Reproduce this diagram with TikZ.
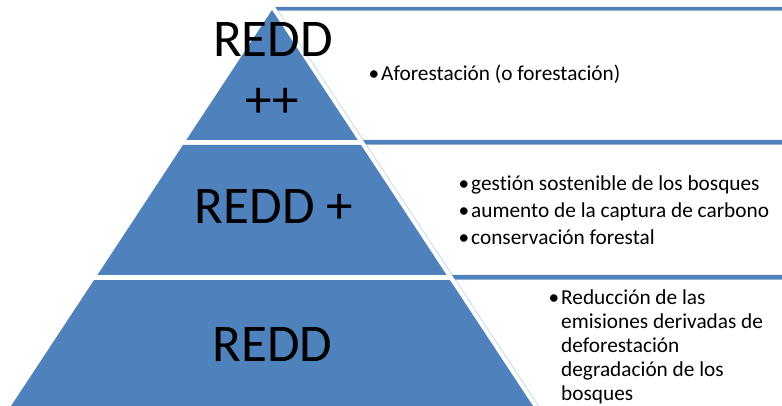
\documentclass[tikz,border=0pt]{standalone}
\usepackage{fontspec}
\setmainfont{Carlito}[Ligatures={NoCommon}]
\definecolor{pblue}{HTML}{4F81BD}
\definecolor{barshade}{HTML}{95B3D7}
\definecolor{edgeblue}{HTML}{C6D9F1}
\begin{document}
\begin{tikzpicture}[x=1pt,y=-1pt,
  tier/.style={fill=pblue,draw=none},
  bar/.style={fill=pblue,draw=none},
  barline/.style={draw=barshade,line width=1pt},
  edge/.style={draw=edgeblue,line width=0.8pt},
  big/.style={font=\fontsize{53}{61}\selectfont,inner sep=0pt,anchor=base},
  item/.style={font=\fontsize{21.3}{23}\selectfont,inner sep=0pt,anchor=base west},
  dot/.style={font=\fontsize{21.3}{23}\selectfont,inner sep=0pt,anchor=base west}]
\useasboundingbox (0,0) rectangle (782,406);
\fill[white] (0,0) rectangle (782,406);
% pyramid tiers
\fill[tier] (272,10) -- (357.7,140) -- (186.3,140) -- cycle;
\fill[tier] (183,145) -- (361,145) -- (446.6,275) -- (97.4,275) -- cycle;
\fill[tier] (94.1,280) -- (449.9,280) -- (533,406) -- (11,406) -- cycle;
% boxes: slanted edge and top bars
\draw[edge] (275.5,7) -- (538.5,406);
\fill[bar] (275.5,7) -- (782,7) -- (782,10.5) -- (277.8,10.5) -- cycle;
\draw[barline] (277.8,11) -- (782,11);
\fill[bar] (363.2,140) -- (782,140) -- (782,144) -- (365.8,144) -- cycle;
\draw[barline] (366.2,144.5) -- (782,144.5);
\fill[bar] (452.1,275) -- (782,275) -- (782,279) -- (454.7,279) -- cycle;
\draw[barline] (455.1,279.5) -- (782,279.5);
% tier labels
\node[big] (t1a) at (273,57) {REDD};
\node[big] (t1b) at (272.5,118) {++};
\node[big] (t2) at (274,224) {REDD +};
\node[big] (t3) at (272.5,361) {REDD};
% tier 1 text
\node[dot] (b1) at (368.5,81) {•};
\node[item] (l1) at (381,81) {Aforestación (o forestación)};
% tier 2 text
\node[dot] (b21) at (458.5,191) {•};
\node[item] (l21) at (471,191) {gestión sostenible de los bosques};
\node[dot] (b22) at (458.5,217.5) {•};
\node[item] (l22) at (471,217.5) {aumento de la captura de carbono};
\node[dot] (b23) at (458.5,244) {•};
\node[item] (l23) at (471,244) {conservación forestal};
% tier 3 text
\node[dot] (b31) at (548.5,304) {•};
\node[item] (l31) at (561,304) {Reducción de las};
\node[item] (l32) at (561,328) {emisiones derivadas de};
\node[item] (l33) at (561,352) {deforestación};
\node[item] (l34) at (561,376) {degradación de los};
\node[item] (l35) at (561,400) {bosques};
\end{tikzpicture}
\end{document}
